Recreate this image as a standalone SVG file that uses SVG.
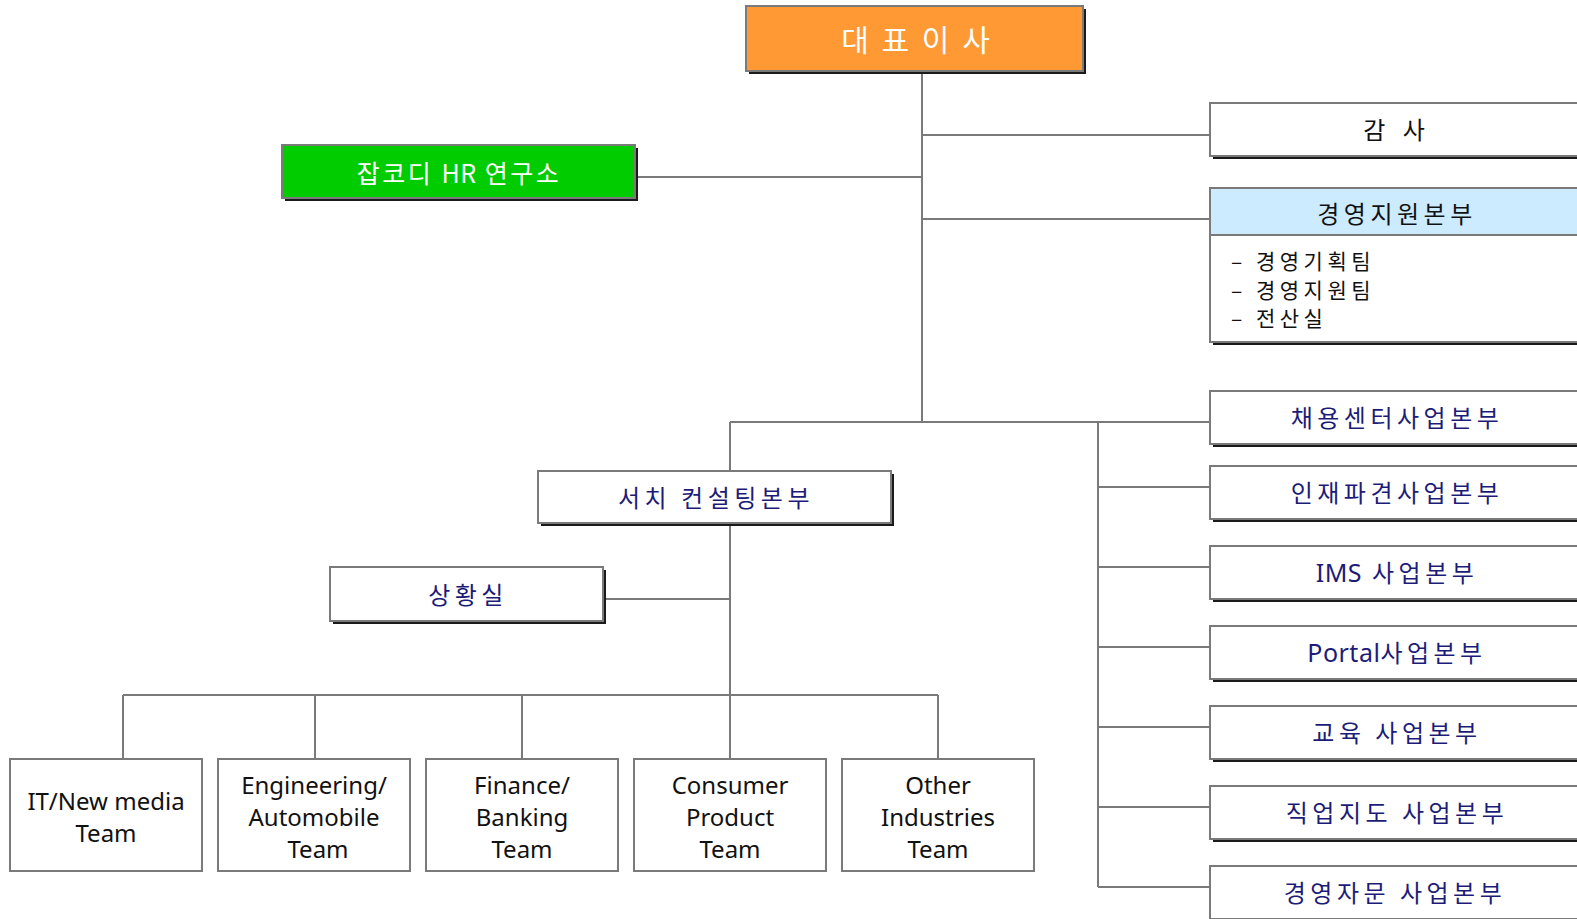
<svg xmlns="http://www.w3.org/2000/svg" width="1577" height="919" viewBox="0 0 1577 919">
<style>
.bx{fill:#fff;stroke:#7a7a7a;stroke-width:2}
.sh{fill:#1a1a1a}
.ln{stroke:#7a7a7a;stroke-width:2;fill:none}
.kr{font-family:"Noto Sans CJK KR","Noto Sans",sans-serif;font-size:24px;letter-spacing:4.5px;text-anchor:middle}
.la{letter-spacing:0.5px;font-family:"Noto Sans","Noto Sans CJK KR",sans-serif;font-size:25px}
.nv{fill:#1c1c78}
.bk{fill:#111}
.tm{font-family:"Noto Sans","DejaVu Sans",sans-serif;font-size:24px;fill:#111;text-anchor:middle}
.ls{font-family:"Noto Sans CJK KR","Noto Sans",sans-serif;font-size:21px;letter-spacing:4.5px;fill:#111}
</style>
<rect width="1577" height="919" fill="#fff"/>
<g id="connectors">
<path class="ln" d="M922 71V422M635 177H922M922 135H1210M922 219H1210M730 422H1210M1098 422V887M1098 487H1210M1098 567H1210M1098 647H1210M1098 727H1210M1098 807H1210M1098 887H1210M730 422V471M730 523V759M603 599H730M123 695H938M123 695V759M315 695V759M522 695V759M938 695V759"/>
</g>
<g id="ceo">
<rect class="sh" x="749" y="9" width="337" height="65"/>
<rect x="746" y="6" width="337" height="65" fill="#ff9933" stroke="#7a7a7a" stroke-width="2"/>
<text x="917" y="51" class="kr" style="font-size:30px;letter-spacing:3px" fill="#fff">대 표 이 사</text>
</g>
<g id="hr-lab">
<rect class="sh" x="285" y="148" width="353" height="53"/>
<rect x="282" y="145" width="353" height="53" fill="#00cc00" stroke="#7a7a7a" stroke-width="2"/>
<text x="459" y="183" class="kr" style="font-size:25px;letter-spacing:2.5px" fill="#fff">잡코디 <tspan style="letter-spacing:0.5px">HR</tspan> 연구소</text>
</g>
<g id="audit">
<rect class="sh" x="1213" y="106" width="372" height="53"/>
<rect class="bx" x="1210" y="103" width="372" height="53"/>
<text x="1397" y="139" class="kr bk" style="letter-spacing:6px">감 사</text>
</g>
<g id="mgmt-support">
<rect class="sh" x="1213" y="191" width="372" height="154"/>
<rect class="bx" x="1210" y="188" width="372" height="154"/>
<rect x="1211" y="189" width="370" height="46" fill="#ccebff"/>
<line class="ln" x1="1210" y1="235" x2="1582" y2="235"/>
<text x="1397" y="223" class="kr bk">경영지원본부</text>
<text x="1231" y="269" class="ls">– 경영기획팀</text>
<text x="1231" y="298" class="ls">– 경영지원팀</text>
<text x="1231" y="326" class="ls">– 전산실</text>
</g>
<g id="recruit">
<rect class="sh" x="1213" y="394" width="372" height="53"/>
<rect class="bx" x="1210" y="391" width="372" height="53"/>
<text x="1397" y="427" class="kr nv">채용센터사업본부</text>
</g>
<g id="dispatch">
<rect class="sh" x="1213" y="469" width="372" height="53"/>
<rect class="bx" x="1210" y="466" width="372" height="53"/>
<text x="1397" y="502" class="kr nv">인재파견사업본부</text>
</g>
<g id="ims">
<rect class="sh" x="1213" y="549" width="372" height="53"/>
<rect class="bx" x="1210" y="546" width="372" height="53"/>
<text x="1397" y="582" class="kr nv"><tspan class="la">IMS</tspan> 사업본부</text>
</g>
<g id="portal">
<rect class="sh" x="1213" y="629" width="372" height="53"/>
<rect class="bx" x="1210" y="626" width="372" height="53"/>
<text x="1397" y="662" class="kr nv"><tspan class="la">Portal</tspan>사업본부</text>
</g>
<g id="edu">
<rect class="sh" x="1213" y="709" width="372" height="53"/>
<rect class="bx" x="1210" y="706" width="372" height="53"/>
<text x="1397" y="742" class="kr nv">교육 사업본부</text>
</g>
<g id="career">
<rect class="sh" x="1213" y="789" width="372" height="53"/>
<rect class="bx" x="1210" y="786" width="372" height="53"/>
<text x="1397" y="822" class="kr nv">직업지도 사업본부</text>
</g>
<g id="consulting">
<rect class="sh" x="1213" y="869" width="372" height="53"/>
<rect class="bx" x="1210" y="866" width="372" height="53"/>
<text x="1395" y="902" class="kr nv">경영자문  사업본부</text>
</g>
<g id="search">
<rect class="sh" x="541" y="474" width="353" height="52"/>
<rect class="bx" x="538" y="471" width="353" height="52"/>
<text x="716" y="507" class="kr nv">서치 컨설팅본부</text>
</g>
<g id="situation">
<rect class="sh" x="333" y="570" width="273" height="54"/>
<rect class="bx" x="330" y="567" width="273" height="54"/>
<text x="468" y="604" class="kr nv">상황실</text>
</g>
<g id="team-it">
<rect class="bx" x="10" y="759" width="192" height="112"/>
<text class="tm"><tspan x="106" y="810">IT/New media</tspan><tspan x="106" y="842">Team</tspan></text>
</g>
<g id="team-eng">
<rect class="bx" x="218" y="759" width="192" height="112"/>
<text class="tm"><tspan x="314" y="794">Engineering/</tspan><tspan x="314" y="826">Automobile</tspan><tspan x="318" y="858">Team</tspan></text>
</g>
<g id="team-fin">
<rect class="bx" x="426" y="759" width="192" height="112"/>
<text class="tm"><tspan x="522" y="794">Finance/</tspan><tspan x="522" y="826">Banking</tspan><tspan x="522" y="858">Team</tspan></text>
</g>
<g id="team-consumer">
<rect class="bx" x="634" y="759" width="192" height="112"/>
<text class="tm"><tspan x="730" y="794">Consumer</tspan><tspan x="730" y="826">Product</tspan><tspan x="730" y="858">Team</tspan></text>
</g>
<g id="team-other">
<rect class="bx" x="842" y="759" width="192" height="112"/>
<text class="tm"><tspan x="938" y="794">Other</tspan><tspan x="938" y="826">Industries</tspan><tspan x="938" y="858">Team</tspan></text>
</g>
</svg>
